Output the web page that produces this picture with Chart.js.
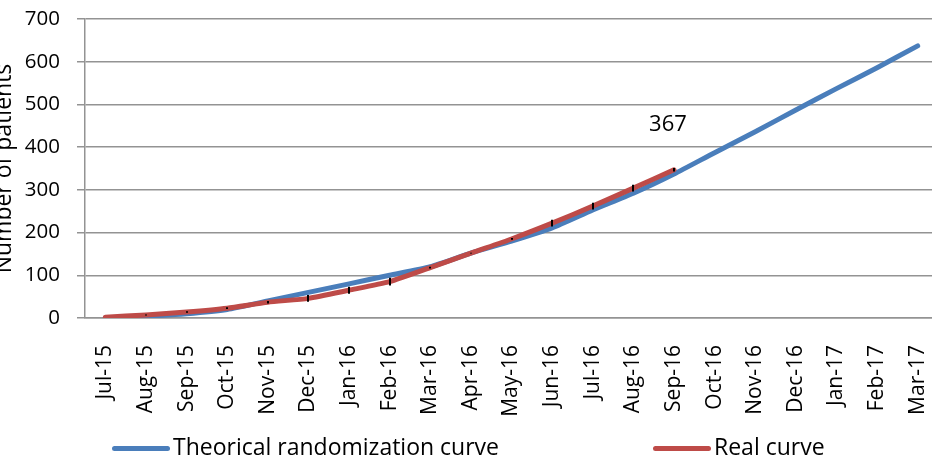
<!DOCTYPE html>
<html lang="en">
<head>
  <meta charset="UTF-8">
  <title>Randomization curve</title>
  <script src="https://cdn.jsdelivr.net/npm/chart.js"></script>
  <style>
    body { margin: 0; background: #fff; }
    #wrap { position: relative; width: 932px; height: 462px; overflow: hidden; }
    #curveChart { position: absolute; left: -10px; top: 0; }
    .legend { position: absolute; top: 430px; font-family: "Open Sans", sans-serif; font-size: 23px; color: #000; white-space: nowrap; }
    .legend span.swatch { display: inline-block; width: 58px; height: 5px; border-radius: 3px; vertical-align: middle; margin-right: 3px; }
  </style>
</head>
<body>
  <div id="wrap">
    <canvas id="curveChart" width="948" height="462"></canvas>
    <div class="legend" style="left: 112px;"><span class="swatch" style="background:#4a7ebb"></span>Theorical randomization curve</div>
    <div class="legend" style="left: 653px;"><span class="swatch" style="background:#be4b48"></span>Real curve</div>
  </div>

  <script>
    // Months of the study
    const months = ['Jul-15', 'Aug-15', 'Sep-15', 'Oct-15', 'Nov-15', 'Dec-15', 'Jan-16',
      'Feb-16', 'Mar-16', 'Apr-16', 'May-16', 'Jun-16', 'Jul-16', 'Aug-16', 'Sep-16',
      'Oct-16', 'Nov-16', 'Dec-16', 'Jan-17', 'Feb-17', 'Mar-17'];

    // Cumulative patients, theoretical vs real
    const theoretical = [0, 4, 10, 20, 40, 60, 80, 100, 120, 152, 180, 211, 253, 292, 337,
      387, 436, 487, 537, 586, 637];
    const real = [2, 7, 14, 23, 37, 46, 65, 85, 118, 152, 185, 222, 262, 304, 347];

    // small black marks on the real curve (half length, in patients)
    const realErr = [0, 1, 2, 2, 3, 8, 8, 9, 2, 1, 2, 8, 8, 8, 4];

    const lastLabel = '367';

    const fontFamily = '"Open Sans", sans-serif';

    const marksPlugin = {
      id: 'marks',
      afterDatasetsDraw(chart) {
        const ctx = chart.ctx;
        const xs = chart.scales.x, ys = chart.scales.y;
        ctx.save();
        ctx.strokeStyle = '#000';
        ctx.lineWidth = 2;
        real.forEach((v, i) => {
          if (!realErr[i]) return;
          const x = Math.round(xs.getPixelForValue(i));
          ctx.beginPath();
          ctx.moveTo(x, ys.getPixelForValue(v - realErr[i]));
          ctx.lineTo(x, ys.getPixelForValue(v + realErr[i]));
          ctx.stroke();
        });
        // value label above the last real point
        const li = real.length - 1;
        ctx.fillStyle = '#000';
        ctx.font = '22px ' + fontFamily;
        ctx.textAlign = 'center';
        ctx.textBaseline = 'middle';
        ctx.fillText(lastLabel, xs.getPixelForValue(li) - 6, ys.getPixelForValue(real[li]) - 45);
        ctx.restore();
      }
    };

    const ctx = document.getElementById('curveChart').getContext('2d');
    new Chart(ctx, {
      type: 'line',
      data: {
        labels: months,
        datasets: [
          {
            label: 'Theorical randomization curve',
            data: theoretical,
            borderColor: '#4a7ebb',
            borderWidth: 5,
            pointRadius: 0,
            tension: 0.2,
            borderCapStyle: 'round',
            borderJoinStyle: 'round',
            order: 2
          },
          {
            label: 'Real curve',
            data: real,
            borderColor: '#be4b48',
            borderWidth: 5,
            pointRadius: 0,
            tension: 0.2,
            borderCapStyle: 'round',
            borderJoinStyle: 'round',
            order: 1
          }
        ]
      },
      options: {
        responsive: false,
        animation: false,
        layout: { padding: { top: 19, left: 0, right: 0, bottom: 0 } },
        plugins: {
          legend: { display: false },
          tooltip: { enabled: false }
        },
        scales: {
          x: {
            offset: true,
            afterFit: s => { s.height = 144; s.paddingLeft = 0; s.paddingRight = 0; },
            grid: { display: false, drawTicks: false },
            border: { display: true, color: '#939393', width: 1.5 },
            ticks: {
              color: '#000',
              font: { family: fontFamily, size: 21 },
              minRotation: 90,
              maxRotation: 90,
              padding: 27,
              autoSkip: false
            }
          },
          y: {
            min: 0,
            max: 700,
            afterFit: s => { s.width = 95; s.paddingTop = 0; s.paddingBottom = 0; },
            grid: { color: '#939393', lineWidth: 1.5, tickLength: 8 },
            border: { display: true, color: '#939393', width: 1.5 },
            ticks: {
              stepSize: 100,
              color: '#000',
              padding: 17,
              font: { family: fontFamily, size: 20.5 }
            },
            title: {
              display: true,
              text: 'Number of patients',
              color: '#000',
              font: { family: fontFamily, size: 23 },
              padding: { top: 1, bottom: 0 }
            }
          }
        }
      },
      plugins: [marksPlugin]
    });
  </script>
</body>
</html>
